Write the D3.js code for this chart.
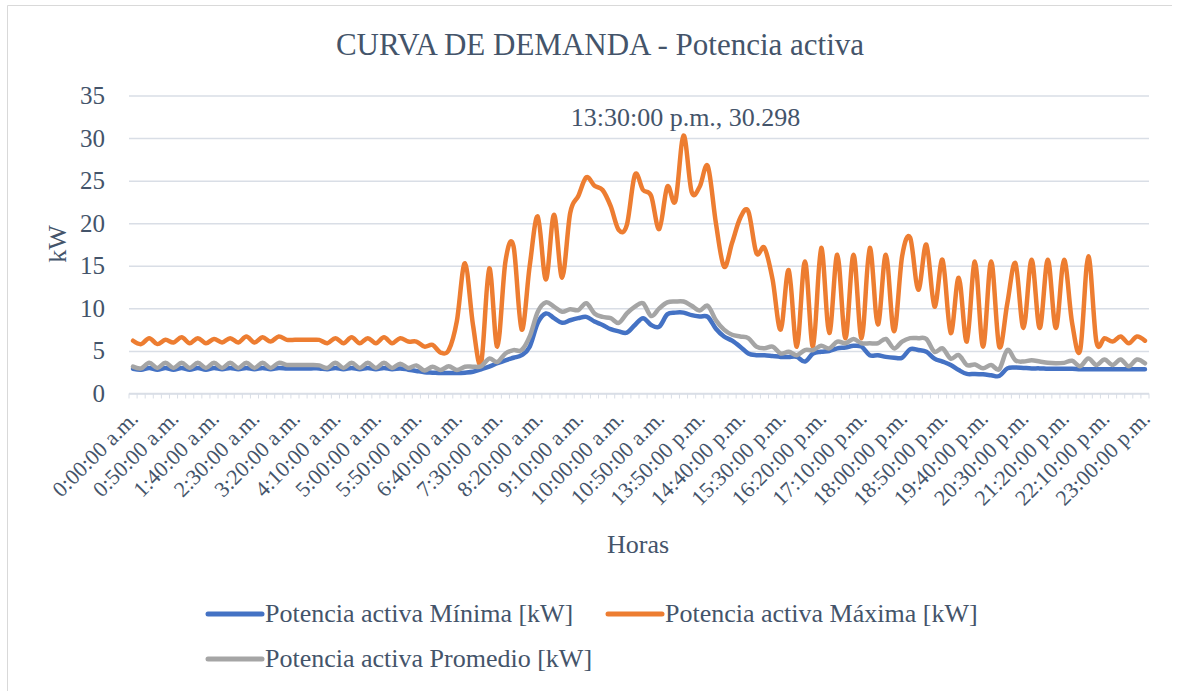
<!DOCTYPE html>
<html>
<head>
<meta charset="utf-8">
<script src="https://cdn.jsdelivr.net/npm/d3@7"></script>
<style>
  body { margin: 0; background: #fff; }
  svg { display: block; }
  svg text { font-family: "Liberation Serif", "Times New Roman", Times, "DejaVu Serif", serif; }
</style>
</head>
<body>
<div id="chart"></div>
<script>
const width = 1189;
const height = 691;
const margin = { top: 95.5, right: 40, bottom: 297.5, left: 129 };

// category labels: 10 minute steps, 11:00 - 13:00 missing in the source
const categories = [];
function addTimes(startMin, endMin) {
  for (let m = startMin; m <= endMin; m += 10) {
    const h = Math.floor(m / 60);
    const mm = String(m % 60).padStart(2, "0");
    categories.push(`${h}:${mm}:00 ${h < 12 ? "a.m." : "p.m."}`);
  }
}
addTimes(0, 650);
addTimes(790, 1380);

const yTicks = [0, 5, 10, 15, 20, 25, 30, 35];

const minima = [
  2.9, 2.8, 3.0, 2.8, 3.0, 2.8, 3.0, 2.8, 3.0, 2.8,
  3.0, 2.85, 3.0, 2.85, 3.0, 2.85, 3.0, 2.85, 3.0, 2.95,
  2.95, 2.95, 2.95, 2.95, 2.85, 3.0, 2.85, 3.0, 2.85, 3.0,
  2.85, 3.0, 2.85, 2.95, 2.8, 2.65, 2.5, 2.45, 2.4, 2.4,
  2.4, 2.45, 2.55, 2.85, 3.15, 3.55, 3.9, 4.2, 4.5, 5.5,
  8.3, 9.4, 8.85, 8.3, 8.6, 8.85, 9.0, 8.45, 8.05, 7.55,
  7.3, 7.15, 8.05, 8.85, 8.05, 7.85, 9.3, 9.5, 9.5, 9.2,
  9.05, 9.0, 7.6, 6.7, 6.2, 5.5, 4.7, 4.5, 4.5, 4.4,
  4.3, 4.3, 4.3, 3.75, 4.7, 4.9, 5.0, 5.3, 5.4, 5.6,
  5.5, 4.5, 4.5, 4.3, 4.2, 4.2, 5.2, 5.1, 4.9, 4.1,
  3.75, 3.35, 2.75, 2.3, 2.3, 2.25, 2.15, 2.05, 2.95, 3.05,
  3.0, 2.95, 2.95, 2.9, 2.9, 2.9, 2.9, 2.85, 2.85, 2.85,
  2.85, 2.85, 2.85, 2.85, 2.85, 2.85
];

const maxima = [
  6.2, 5.8, 6.5, 5.8, 6.3, 6.0, 6.6, 5.9, 6.5, 5.9,
  6.4, 6.0, 6.5, 6.0, 6.7, 6.0, 6.6, 6.1, 6.7, 6.3,
  6.3, 6.3, 6.3, 6.3, 5.9, 6.5, 5.9, 6.6, 5.9, 6.5,
  5.9, 6.6, 5.9, 6.5, 6.1, 6.1, 5.5, 5.7, 4.8, 5.1,
  8.5, 15.3, 8.0, 3.6, 14.7, 5.5, 15.5, 17.3, 7.5, 15.0,
  20.8, 13.4, 21.0, 13.6, 21.2, 23.2, 25.4, 24.4, 23.9, 22.0,
  19.2, 19.8, 25.7, 23.9, 23.2, 19.3, 24.3, 22.6, 30.298, 23.7,
  24.3, 26.7, 20.0, 14.9, 17.7, 20.6, 21.4, 16.5, 17.1, 13.4,
  7.5, 14.5, 5.5, 15.5, 5.5, 17.1, 7.1, 16.3, 6.5, 16.3,
  6.5, 17.1, 8.1, 16.3, 7.3, 16.1, 18.3, 12.2, 17.5, 10.2,
  15.7, 7.1, 13.6, 6.1, 15.5, 5.5, 15.5, 5.5, 10.6, 15.3,
  7.7, 15.7, 7.7, 15.7, 7.7, 15.7, 8.3, 5.1, 16.1, 6.1,
  6.5, 6.1, 6.7, 5.9, 6.7, 6.2
];

const promedio = [
  3.15, 2.95, 3.6, 3.0, 3.6, 3.0, 3.6, 3.0, 3.6, 3.0,
  3.6, 3.0, 3.6, 3.0, 3.6, 3.0, 3.6, 3.0, 3.6, 3.35,
  3.35, 3.35, 3.35, 3.3, 3.0, 3.6, 3.0, 3.6, 3.0, 3.6,
  3.0, 3.6, 3.0, 3.5, 3.0, 3.3, 2.7, 3.15, 2.75, 3.2,
  2.75, 3.15, 3.15, 3.2, 4.1, 3.7, 4.7, 5.1, 5.1, 6.7,
  9.6, 10.7, 10.2, 9.6, 9.9, 9.8, 10.6, 9.4, 9.0, 8.85,
  8.3, 9.4, 10.2, 10.6, 9.1, 10.0, 10.7, 10.8, 10.8, 10.3,
  9.75, 10.3, 8.6, 7.5, 6.9, 6.7, 6.5, 5.5, 5.3, 5.5,
  4.7, 4.9, 4.5, 5.1, 5.1, 5.6, 5.3, 6.1, 5.9, 6.4,
  5.9, 5.9, 5.9, 6.4, 5.3, 6.1, 6.5, 6.5, 6.4, 4.9,
  5.3, 4.1, 4.5, 3.35, 3.4, 2.96, 3.35, 2.85, 5.1, 3.9,
  3.75, 3.9, 3.75, 3.6, 3.55, 3.6, 3.85, 3.2, 4.1, 3.35,
  4.0, 3.35, 4.0, 3.2, 4.0, 3.55
];

const series = [
  { name: "Potencia activa Mínima [kW]", values: minima, color: "#4472c4" },
  { name: "Potencia activa Máxima [kW]", values: maxima, color: "#ed7d31" },
  { name: "Potencia activa Promedio [kW]", values: promedio, color: "#a5a5a5" }
];

const textColor = "#44546a";
const gridColor = "#d9dee6";

const svg = d3
  .select("#chart")
  .append("svg")
  .attr("width", width)
  .attr("height", height);

// chart border (top and left show in the picture)
svg.append("path")
  .attr("d", "M7.5,700 V5.5 H1172")
  .attr("fill", "none")
  .attr("stroke", "#d9d9d9")
  .attr("stroke-width", 1);

let x = d3
  .scaleBand()
  .domain(categories)
  .range([margin.left, width - margin.right])
  .paddingInner(0)
  .paddingOuter(0);

let y = d3
  .scaleLinear()
  .domain([0, 35])
  .range([height - margin.bottom, margin.top]);

const cx = (c) => x(c) + x.bandwidth() / 2;

// title
svg.append("text")
  .attr("x", 600)
  .attr("y", 55)
  .attr("text-anchor", "middle")
  .attr("font-size", "31px")
  .attr("fill", textColor)
  .text("CURVA DE DEMANDA - Potencia activa");

// gridlines + y labels
const yAxis = svg.append("g")
  .attr("transform", `translate(${margin.left},0)`)
  .call(d3.axisLeft(y).tickValues(yTicks).tickSize(-(width - margin.left - margin.right)).tickPadding(24));
yAxis.attr("font-family", null);
yAxis.select(".domain").remove();
yAxis.selectAll(".tick line").attr("stroke", gridColor).attr("stroke-width", 1.5);
yAxis.selectAll(".tick text")
  .attr("font-size", "25px")
  .attr("fill", textColor);

// x axis with a small tick between every category
const xAxis = svg.append("g")
  .attr("transform", `translate(0,${y(0)})`);
xAxis.append("line")
  .attr("x1", margin.left)
  .attr("x2", width - margin.right)
  .attr("stroke", gridColor)
  .attr("stroke-width", 1.5);
xAxis.selectAll(".minor")
  .data(categories.concat([null]))
  .join("line")
  .attr("class", "minor")
  .attr("x1", (d, i) => margin.left + i * x.bandwidth())
  .attr("x2", (d, i) => margin.left + i * x.bandwidth())
  .attr("y1", 0)
  .attr("y2", 5)
  .attr("stroke", gridColor)
  .attr("stroke-width", 1);

xAxis.selectAll(".xlabel")
  .data(categories.filter((d, i) => i % 5 === 0))
  .join("text")
  .attr("class", "xlabel")
  .attr("transform", (d) => `translate(${cx(d) + 1},${21}) rotate(-45)`)
  .attr("text-anchor", "end")
  .attr("dy", "0.35em")
  .attr("font-size", "22px")
  .attr("fill", textColor)
  .text((d) => d);

// axis titles
svg.append("text")
  .attr("transform", "translate(66,244) rotate(-90)")
  .attr("text-anchor", "middle")
  .attr("font-size", "26px")
  .attr("fill", textColor)
  .text("kW");

svg.append("text")
  .attr("x", 638)
  .attr("y", 553)
  .attr("text-anchor", "middle")
  .attr("font-size", "26px")
  .attr("fill", textColor)
  .text("Horas");

// lines, smoothed like the spreadsheet ones
let line = d3
  .line()
  .x((d, i) => cx(categories[i]))
  .y((d) => y(d))
  .curve(d3.curveCatmullRom.alpha(0));

for (let s of series) {
  svg.append("path")
    .datum(s.values)
    .attr("fill", "none")
    .attr("stroke", s.color)
    .attr("stroke-width", 4.5)
    .attr("stroke-linejoin", "round")
    .attr("stroke-linecap", "round")
    .attr("d", line);
}

// data label on the peak of the maximum series
const peakIdx = d3.maxIndex(maxima);
svg.append("text")
  .attr("x", cx(categories[peakIdx]) + 2)
  .attr("y", y(maxima[peakIdx]) - 10)
  .attr("text-anchor", "middle")
  .attr("font-size", "26px")
  .attr("fill", textColor)
  .text(`${categories[peakIdx]}, ${d3.format(".3f")(maxima[peakIdx])}`);

// legend
const legendItems = [
  { s: series[0], x: 206, y: 614 },
  { s: series[1], x: 606, y: 614 },
  { s: series[2], x: 206, y: 659 }
];
const legend = svg.append("g");
for (let item of legendItems) {
  legend.append("line")
    .attr("x1", item.x + 2)
    .attr("x2", item.x + 56)
    .attr("y1", item.y)
    .attr("y2", item.y)
    .attr("stroke", item.s.color)
    .attr("stroke-width", 5)
    .attr("stroke-linecap", "round");
  legend.append("text")
    .attr("x", item.x + 59)
    .attr("y", item.y)
    .attr("dy", "0.32em")
    .attr("font-size", "26px")
    .attr("fill", textColor)
    .text(item.s.name);
}
</script>
</body>
</html>
